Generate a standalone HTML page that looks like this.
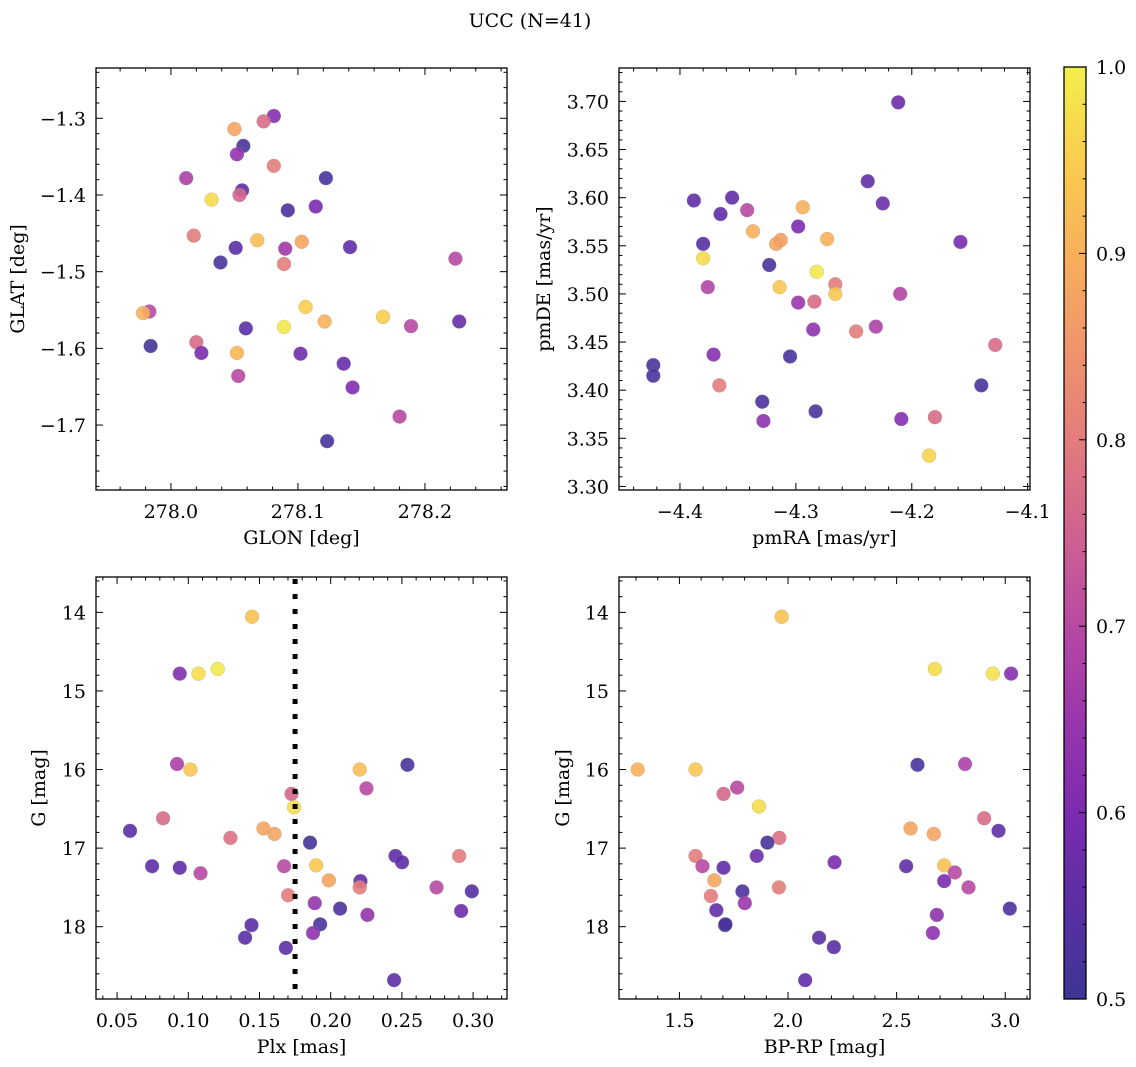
<!DOCTYPE html>
<html><head><meta charset="utf-8"><style>
html,body{margin:0;padding:0;background:#fff;}
svg{display:block;font-family:"DejaVu Serif","Liberation Serif",serif;}
</style></head><body>
<svg id="fig" width="1136" height="1067" viewBox="0 0 1136 1067">
<defs><linearGradient id="cbg" x1="0" y1="1" x2="0" y2="0">
<stop offset="0" stop-color="#3d3594"/><stop offset="0.1" stop-color="#5a2fa5"/><stop offset="0.2" stop-color="#7b2bb0"/><stop offset="0.3" stop-color="#9a36ad"/><stop offset="0.4" stop-color="#b849a3"/><stop offset="0.5" stop-color="#d06290"/><stop offset="0.6" stop-color="#e37c7c"/><stop offset="0.7" stop-color="#f0956b"/><stop offset="0.8" stop-color="#f8b05a"/><stop offset="0.9" stop-color="#f9cd4d"/><stop offset="1" stop-color="#f2ef4c"/>
</linearGradient></defs>
<text x="530" y="27" font-size="19" text-anchor="middle">UCC (N=41)</text>
</svg>
<script>
// Panel 1: GLON vs GLAT
const p1x=[278.081,278.073,278.050,278.057,278.052,278.081,278.012,278.122,278.056,278.054,278.032,278.092,278.114,278.018,278.068,278.103,278.051,278.090,278.141,278.039,278.089,278.224,278.106,277.983,277.978,278.167,278.121,278.227,278.189,278.059,278.089,277.984,278.020,278.024,278.052,278.102,278.136,278.053,278.143,278.180,278.123];
const p1y=[-1.297,-1.304,-1.314,-1.336,-1.347,-1.362,-1.378,-1.378,-1.394,-1.400,-1.406,-1.420,-1.415,-1.453,-1.459,-1.461,-1.469,-1.470,-1.468,-1.488,-1.490,-1.483,-1.546,-1.552,-1.554,-1.559,-1.565,-1.565,-1.571,-1.574,-1.572,-1.597,-1.592,-1.606,-1.606,-1.607,-1.620,-1.636,-1.651,-1.689,-1.721];
const p1c=[.62,.77,.88,.52,.64,.8,.68,.52,.55,.76,.97,.53,.6,.8,.92,.88,.55,.66,.56,.52,.8,.7,.95,.7,.9,.95,.9,.57,.7,.55,.99,.51,.77,.6,.91,.58,.57,.7,.61,.7,.52];
// Panel 2: pmRA vs pmDE
const p2x=[-4.2117,-4.238,-4.225,-4.388,-4.355,-4.365,-4.342,-4.294,-4.298,-4.337,-4.317,-4.313,-4.273,-4.380,-4.158,-4.380,-4.323,-4.282,-4.376,-4.314,-4.266,-4.266,-4.210,-4.298,-4.284,-4.285,-4.248,-4.231,-4.128,-4.371,-4.305,-4.423,-4.423,-4.366,-4.140,-4.329,-4.283,-4.328,-4.209,-4.180,-4.185];
const p2y=[3.699,3.617,3.594,3.597,3.600,3.583,3.587,3.590,3.570,3.565,3.552,3.556,3.557,3.552,3.554,3.537,3.530,3.523,3.507,3.507,3.510,3.500,3.500,3.491,3.492,3.463,3.461,3.466,3.447,3.437,3.435,3.426,3.415,3.405,3.405,3.388,3.378,3.368,3.370,3.372,3.332];
const p2c=[.58,.56,.58,.56,.56,.56,.7,.9,.6,.9,.88,.87,.9,.54,.6,.97,.52,.99,.69,.94,.8,.94,.69,.65,.77,.63,.8,.68,.77,.62,.52,.52,.52,.8,.52,.53,.52,.63,.62,.77,.96];
// Panel 3: Plx vs G
const p3x=[0.1448,0.0940,0.1072,0.1207,0.0921,0.1015,0.2204,0.2539,0.2251,0.1725,0.1743,0.0823,0.0591,0.1528,0.1605,0.1296,0.1855,0.0746,0.0940,0.1086,0.1673,0.1898,0.2455,0.2501,0.2902,0.1987,0.2209,0.2204,0.2743,0.2991,0.1701,0.1888,0.2066,0.2258,0.2916,0.1444,0.1926,0.1399,0.1876,0.1685,0.2445];
const p3y=[14.056,14.78,14.78,14.72,15.93,16.00,16.00,15.94,16.24,16.31,16.48,16.62,16.78,16.75,16.82,16.87,16.93,17.23,17.25,17.32,17.23,17.22,17.10,17.18,17.10,17.41,17.42,17.50,17.50,17.55,17.60,17.70,17.77,17.85,17.80,17.98,17.97,18.14,18.08,18.27,18.68];
const p3c=[.93,.61,.97,.99,.68,.94,.92,.52,.7,.76,.97,.77,.55,.88,.88,.78,.51,.56,.56,.7,.7,.94,.56,.56,.8,.88,.56,.8,.7,.54,.8,.64,.53,.64,.58,.55,.52,.55,.63,.55,.56];
// Panel 4: BP-RP vs G
const p4x=[1.971,2.676,2.943,3.027,1.308,1.574,2.596,2.815,1.703,1.766,1.866,2.903,2.969,2.564,2.671,1.960,1.905,1.574,1.856,1.606,1.703,2.214,2.544,2.719,2.768,1.661,2.719,2.831,1.958,1.790,1.645,1.801,1.670,3.021,2.685,1.710,1.712,2.667,2.143,2.211,2.079];
const p4y=[14.056,14.72,14.78,14.78,16.00,16.00,15.94,15.93,16.31,16.23,16.47,16.62,16.78,16.75,16.82,16.87,16.93,17.10,17.10,17.23,17.25,17.18,17.23,17.22,17.31,17.41,17.42,17.50,17.50,17.55,17.61,17.70,17.79,17.77,17.85,17.98,17.97,18.08,18.14,18.26,18.68];
const p4c=[.93,.97,.98,.62,.9,.94,.52,.68,.76,.7,.97,.77,.56,.88,.88,.78,.52,.8,.58,.7,.56,.6,.56,.93,.7,.88,.6,.7,.8,.53,.8,.65,.56,.53,.63,.52,.52,.63,.55,.55,.56];
// Tick labels
const t1x=[278.0,278.1,278.2], t1xl=["278.0","278.1","278.2"];
const t1y=[-1.3,-1.4,-1.5,-1.6,-1.7], t1yl=["−1.3","−1.4","−1.5","−1.6","−1.7"];
const t2x=[-4.4,-4.3,-4.2,-4.1], t2xl=["−4.4","−4.3","−4.2","−4.1"];
const t2y=[3.30,3.35,3.40,3.45,3.50,3.55,3.60,3.65,3.70], t2yl=["3.30","3.35","3.40","3.45","3.50","3.55","3.60","3.65","3.70"];
const t3x=[0.05,0.10,0.15,0.20,0.25,0.30], t3xl=["0.05","0.10","0.15","0.20","0.25","0.30"];
const tGy=[14,15,16,17,18], tGyl=["14","15","16","17","18"];
const t4x=[1.5,2.0,2.5,3.0], t4xl=["1.5","2.0","2.5","3.0"];
const cbTicks=[0.5,0.6,0.7,0.8,0.9,1.0], cbLabels=["0.5","0.6","0.7","0.8","0.9","1.0"];
const plxCut=0.175;

const NS="http://www.w3.org/2000/svg";
const fig=document.getElementById('fig');
const FS=19;
const stops=[[.5,[61,53,148]],[.55,[90,47,165]],[.6,[123,43,176]],[.65,[154,54,173]],[.7,[184,73,163]],[.75,[208,98,144]],[.8,[227,124,124]],[.85,[240,149,107]],[.9,[248,176,90]],[.95,[249,205,77]],[1,[242,239,76]]];
function cmap(v){v=Math.max(.5,Math.min(1,v));for(let i=0;i<stops.length-1;i++){const a=stops[i],b=stops[i+1];if(v<=b[0]){const t=(v-a[0])/(b[0]-a[0]);const c=a[1].map((x,k)=>Math.round(x+(b[1][k]-x)*t));return `rgb(${c[0]},${c[1]},${c[2]})`;}}return 'rgb(242,239,76)';}
function mk(tag,attrs,parent){const e=document.createElementNS(NS,tag);for(const k in attrs)e.setAttribute(k,attrs[k]);(parent||fig).appendChild(e);return e;}

function panel(o){
  const g=mk('g',{});
  
  
  const sx=v=>o.L+(v-o.x0)/(o.x1-o.x0)*(o.R-o.L);
  const sy=v=>o.T+(v-o.y0)/(o.y1-o.y0)*(o.B-o.T);
  const pg=mk('g',{},g);
  
  
  for(let i=0;i<o.xs.length;i++){
    const c=mk('circle',{cx:sx(o.xs[i]),cy:sy(o.ys[i]),r:7,fill:cmap(o.cs[i]),'fill-opacity':0.9,stroke:'#999','stroke-width':0.4,'stroke-opacity':0.6},pg);
    
    
  }
  if(o.vline!==undefined){
    const l=mk('line',{x1:sx(o.vline),x2:sx(o.vline),y1:o.T+2,y2:o.B,stroke:'#000','stroke-width':5,'stroke-dasharray':'5 10'},g);
    
    
  }
  const f=mk('rect',{x:o.L,y:o.T,width:o.R-o.L,height:o.B-o.T,fill:'none',stroke:'#000','stroke-width':1.3},g);
  
  
  const tk=mk('g',{stroke:'#000','stroke-width':1},g);
  
  
  const xs0=Math.min(o.x0,o.x1),xs1=Math.max(o.x0,o.x1);
  for(let k=Math.ceil(xs0/o.xm-1e-6);k*o.xm<=xs1+1e-9;k++){
    const v=k*o.xm,x=sx(v);const maj=Math.abs(v/o.xM-Math.round(v/o.xM))<1e-6;const len=maj?7:3.5;
    mk('line',{x1:x,x2:x,y1:o.B,y2:o.B-len},tk);mk('line',{x1:x,x2:x,y1:o.T,y2:o.T+len},tk);
  }
  const ys0=Math.min(o.y0,o.y1),ys1=Math.max(o.y0,o.y1);
  for(let k=Math.ceil(ys0/o.ym-1e-6);k*o.ym<=ys1+1e-9;k++){
    const v=k*o.ym,y=sy(v);const maj=Math.abs(v/o.yM-Math.round(v/o.yM))<1e-6;const len=maj?7:3.5;
    mk('line',{x1:o.L,x2:o.L+len,y1:y,y2:y},tk);mk('line',{x1:o.R,x2:o.R-len,y1:y,y2:y},tk);
  }
  for(let i=0;i<o.tx.length;i++){
    const t=mk('text',{x:sx(o.tx[i]),y:o.B+28,'font-size':FS,'text-anchor':'middle'},g);t.textContent=o.txl[i];
    
    
  }
  for(let i=0;i<o.ty.length;i++){
    const t=mk('text',{x:o.L-10,y:sy(o.ty[i])+7,'font-size':FS,'text-anchor':'end'},g);t.textContent=o.tyl[i];
    
    
  }
  const xl=mk('text',{x:(o.L+o.R)/2,y:o.B+54,'font-size':FS,'text-anchor':'middle'},g);xl.textContent=o.xlab;
  
  
  const cy=(o.T+o.B)/2;
  const yl=mk('text',{x:o.ylx,y:cy,'font-size':FS,'text-anchor':'middle',transform:`rotate(-90 ${o.ylx} ${cy})`,'dominant-baseline':'middle'},g);yl.textContent=o.ylab;
  
  
}

panel({name:'glon-glat-panel',L:96,R:507,T:68,B:490,x0:277.941,x1:278.2646,y0:-1.2344,y1:-1.7847,xm:0.02,xM:0.1,ym:0.02,yM:0.1,xs:p1x,ys:p1y,cs:p1c,tx:t1x,txl:t1xl,ty:t1y,tyl:t1yl,xlab:'GLON [deg]',ylab:'GLAT [deg]',ylx:19});
panel({name:'pm-panel',L:619,R:1030,T:68,B:490,x0:-4.4526,x1:-4.098,y0:3.7347,y1:3.2963,xm:0.02,xM:0.1,ym:0.01,yM:0.05,xs:p2x,ys:p2y,cs:p2c,tx:t2x,txl:t2xl,ty:t2y,tyl:t2yl,xlab:'pmRA [mas/yr]',ylab:'pmDE [mas/yr]',ylx:545});
panel({name:'plx-g-panel',L:96,R:507,T:577,B:999,x0:0.0352,x1:0.3238,y0:13.55,y1:18.92,xm:0.01,xM:0.05,ym:0.2,yM:1,xs:p3x,ys:p3y,cs:p3c,tx:t3x,txl:t3xl,ty:tGy,tyl:tGyl,xlab:'Plx [mas]',ylab:'G [mag]',ylx:40,vline:plxCut});
panel({name:'cmd-panel',L:619,R:1030,T:577,B:999,x0:1.2218,x1:3.114,y0:13.55,y1:18.92,xm:0.1,xM:0.5,ym:0.2,yM:1,xs:p4x,ys:p4y,cs:p4c,tx:t4x,txl:t4xl,ty:tGy,tyl:tGyl,xlab:'BP-RP [mag]',ylab:'G [mag]',ylx:564});

const cbT=67,cbB=999,cbL=1064,cbR=1086;
const cbv=v=>cbB-(v-0.5)/0.5*(cbB-cbT);
const cb=mk('rect',{x:cbL,y:cbT,width:cbR-cbL,height:cbB-cbT,fill:'url(#cbg)',stroke:'#000','stroke-width':1.3});


for(let k=25;k<=50;k++){const v=k*0.02;const y=cbv(v);const maj=(k%5===0);mk('line',{x1:cbR,x2:cbR-(maj?7:3.5),y1:y,y2:y,stroke:'#000','stroke-width':1});}
for(let i=0;i<cbTicks.length;i++){
  const t=mk('text',{x:cbR+10,y:cbv(cbTicks[i])+7,'font-size':FS});t.textContent=cbLabels[i];
  
  
}
</script>
</body></html>
